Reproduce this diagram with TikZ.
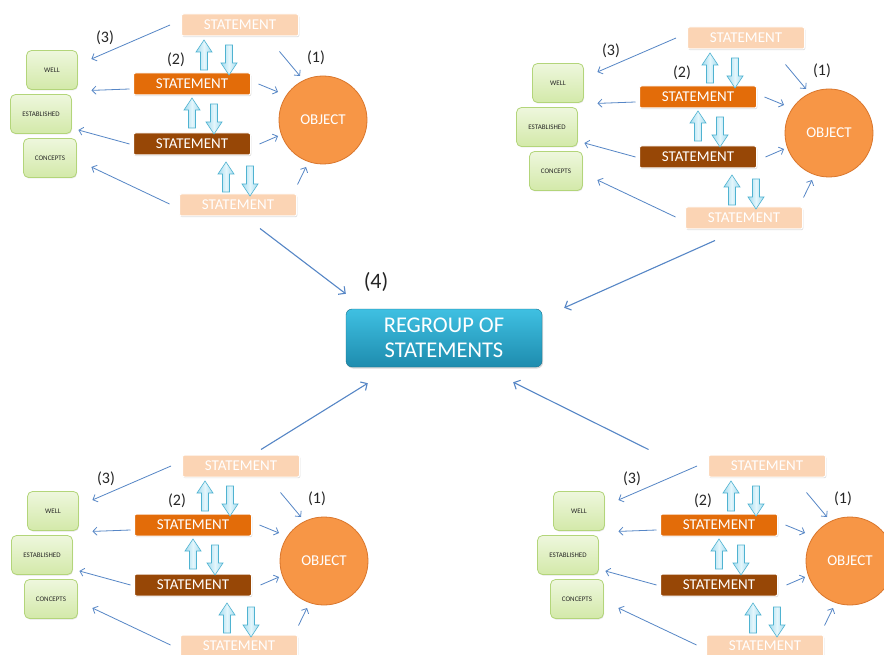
\documentclass[tikz,border=0pt]{standalone}
\usepackage{fontspec}
\setmainfont{Carlito}
\usetikzlibrary{arrows.meta,calc,shadows}

\definecolor{peach}{HTML}{FBD4B4}
\definecolor{orangeA}{HTML}{E36C09}
\definecolor{brownA}{HTML}{974706}
\definecolor{objfill}{HTML}{F79646}
\definecolor{objline}{HTML}{D9762C}
\definecolor{greenTop}{HTML}{EEF7DD}
\definecolor{greenBot}{HTML}{D3E9A9}
\definecolor{greenLine}{HTML}{B3D57A}
\definecolor{cyanEdge}{HTML}{A4DBEE}
\definecolor{cyanMid}{HTML}{E4F6FC}
\definecolor{cyanLine}{HTML}{4FB3D1}
\definecolor{linkblue}{HTML}{5686C6}
\definecolor{tealTop}{HTML}{3FC0E2}
\definecolor{tealBot}{HTML}{1E8CAE}
\definecolor{labelgray}{HTML}{262626}

\tikzset{
  stmt/.style={rectangle, rounded corners=2pt, minimum width=117pt, minimum height=22pt,
    inner sep=0pt, draw=white, line width=1pt, text=white,
    font=\fontsize{15}{17}\selectfont,
    drop shadow={shadow xshift=0.8pt, shadow yshift=-1.2pt, opacity=0.25}},
  stmtlight/.style={stmt, fill=peach},
  stmtorange/.style={stmt, fill=orangeA},
  stmtbrown/.style={stmt, fill=brownA},
  objnode/.style={circle, minimum size=88pt, inner sep=0pt, fill=objfill, draw=objline,
    line width=0.8pt, text=white, font=\fontsize{15}{17}\selectfont},
  concept/.style={rectangle, rounded corners=5pt, minimum height=39pt, inner sep=0pt,
    top color=greenTop, bottom color=greenBot, draw=greenLine, line width=0.8pt,
    text=labelgray, font=\fontsize{7}{8}\selectfont,
    drop shadow={shadow xshift=0.6pt, shadow yshift=-1pt, opacity=0.2}},
  steplabel/.style={text=labelgray, font=\fontsize{16}{18}\selectfont, inner sep=0pt},
  link/.style={draw=linkblue, line width=0.8pt, -{Straight Barb[length=4pt,width=8pt]}},
  biglink/.style={draw=linkblue, line width=1.1pt, -{Straight Barb[length=5pt,width=10pt]}},
  blockarrow/.style={left color=cyanEdge, right color=cyanEdge, middle color=cyanMid,
    draw=cyanLine, line width=0.6pt, line join=miter},
  blkarrow/.pic={\path[blockarrow] (-3.5,0) -- (-3.5,-18) -- (-8,-18) -- (0,-30)
    -- (8,-18) -- (3.5,-18) -- (3.5,0) -- cycle;},
  regroup/.style={rectangle, rounded corners=6pt, minimum width=196pt, minimum height=58pt,
    inner sep=0pt, top color=tealTop, bottom color=tealBot, draw=tealBot!80!black,
    line width=0.4pt, text=white, align=center,
    font=\fontsize{22.5}{25}\selectfont,
    drop shadow={shadow xshift=1pt, shadow yshift=-1.5pt, opacity=0.3}}
}

\begin{document}
\begin{tikzpicture}[x=1pt,y=-1pt]
\useasboundingbox (0,0) rectangle (884,655);
\fill[white] (0,0) rectangle (884,655);
\clip (0,0) rectangle (884,655);

% four identical statement clusters
\foreach \p/\dx/\dy in {a/0/0, b/506/13, c/1/441, d/527/441} {
  \begin{scope}[shift={(\dx,\dy)}]
    \node[stmtlight]  (\p-t1) at (240,25)  {STATEMENT};
    \node[stmtorange] (\p-t2) at (192,84)  {STATEMENT};
    \node[stmtbrown]  (\p-t3) at (192,144) {STATEMENT};
    \node[stmtlight]  (\p-t4) at (238,205) {STATEMENT};
    \node[objnode]    (\p-obj) at (323,120) {OBJECT};
    \node[concept, minimum width=51pt] (\p-well) at (52,70)  {WELL};
    \node[concept, minimum width=61pt] (\p-est)  at (41,114) {ESTABLISHED};
    \node[concept, minimum width=53pt] (\p-con)  at (50,158) {CONCEPTS};
    \node[steplabel] (\p-l3) at (105,38) {(3)};
    \node[steplabel] (\p-l2) at (176,60) {(2)};
    \node[steplabel] (\p-l1) at (316,58) {(1)};

    % exchanges between neighbouring statements
    \pic at (204,70) {blkarrow};
    \pic[rotate=180] at (229,45) {blkarrow};
    \pic at (192,128) {blkarrow};
    \pic[rotate=180] at (214,104) {blkarrow};
    \pic at (226,192) {blkarrow};
    \pic[rotate=180] at (250,166) {blkarrow};

    % statements towards the concepts
    \draw[link] ($(\p-t1.west)+(-11,0)$) -- ($(\p-well.east)+(13.5,-11)$);
    \draw[link] ($(\p-t2.west)+(-3.5,5)$) -- ($(\p-well.south east)+(13.5,0.5)$);
    \draw[link] ($(\p-t3.west)+(-3.5,0)$) -- ($(\p-est.east)+(6.5,16)$);
    \draw[link] ($(\p-t4.west)+(-9.5,-1)$) -- ($(\p-con.east)+(14.5,9)$);

    % statements towards the object
    \draw[link] ($(\p-t1.south east)+(-19.5,15)$) -- ($(\p-obj.center)+(-23,-44)$);
    \draw[link] ($(\p-t2.east)+(7.5,0)$) -- ($(\p-obj.center)+(-45,-28)$);
    \draw[link] ($(\p-t3.east)+(8.5,0)$) -- ($(\p-obj.center)+(-45,16)$);
    \draw[link] ($(\p-t4.north east)+(0.5,-9)$) -- ($(\p-obj.center)+(-17,47)$);
  \end{scope}
}

% central regrouping
\node[regroup] (rg) at (444,338) {REGROUP OF\\STATEMENTS};
\node[steplabel, font=\fontsize{22}{24}\selectfont] (l4) at (376,282) {(4)};

\draw[biglink] ($(a-t4.south)+(22,12)$) -- ($(rg.north west)+(0,-15)$);
\draw[biglink] ($(b-t4.south)+(-29,11)$) -- ($(rg.north east)+(22,-1)$);
\draw[biglink] ($(c-t1.north)+(20,-5)$) -- ($(rg.south west)+(22,16)$);
\draw[biglink] ($(d-t1.north west)+(-59.5,-5)$) -- ($(rg.south east)+(-29,15)$);
\end{tikzpicture}
\end{document}
